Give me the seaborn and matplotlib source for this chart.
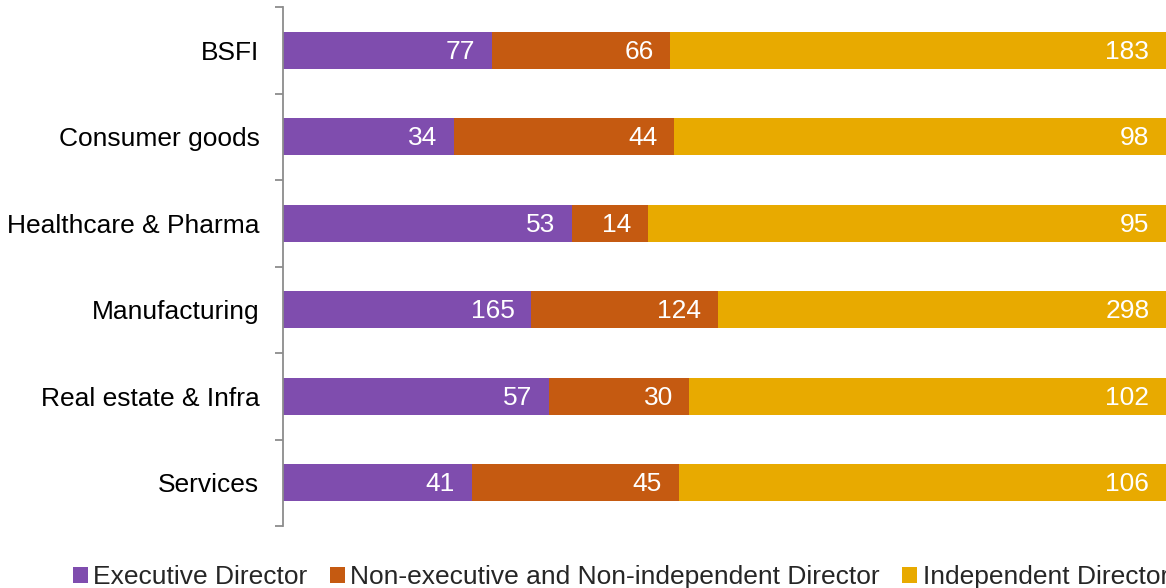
import matplotlib
matplotlib.use("Agg")
import matplotlib.pyplot as plt
from matplotlib.patches import Patch
import seaborn as sns
import pandas as pd
import numpy as np

categories = ["BSFI", "Consumer goods", "Healthcare & Pharma", "Manufacturing",
              "Real estate & Infra", "Services"]
executive = [77, 34, 53, 165, 57, 41]
non_exec_non_indep = [66, 44, 14, 124, 30, 45]
independent = [183, 98, 95, 298, 102, 106]
series_names = ["Executive Director", "Non-executive and Non-independent Director",
                "Independent Director"]
colors = ["#7F4DAE", "#C55A11", "#E8AA00"]

sns.set_theme(style="white")
plt.rcParams["font.family"] = ["Liberation Sans", "DejaVu Sans"]

counts = np.array([executive, non_exec_non_indep, independent], dtype=float)
totals = counts.sum(axis=0)
shares = counts / totals * 100
cum = np.cumsum(shares, axis=0)

df = pd.DataFrame({"category": categories})
for i in range(3):
    df[f"cum{i}"] = cum[i]

fig = plt.figure(figsize=(11.66, 5.88), dpi=100)
ax = fig.add_axes([283 / 1166, 1 - 526 / 588, 1 - 283 / 1166, (526 - 7) / 588])

# Stacked segments: draw cumulative widths from the back to the front
for i in (2, 1, 0):
    sns.barplot(data=df, x=f"cum{i}", y="category", orient="h", color=colors[i],
                width=0.43, saturation=1, ax=ax, edgecolor="none")

# Value labels at the right end of each segment
for i in range(3):
    for j in range(len(categories)):
        ax.annotate(f"{int(counts[i, j])}", xy=(cum[i, j], j), xytext=(-12, -1),
                    textcoords="offset points", ha="right", va="center",
                    color="white", fontsize=19)

ax.set_xlim(0, 100)
ax.set_ylim(len(categories) - 0.5, -0.5)
ax.set_xlabel("")
ax.set_ylabel("")
ax.set_xticks([])
ax.set_yticks(range(len(categories)))
ax.set_yticklabels(categories, fontsize=19, color="black")
ax.tick_params(axis="y", which="major", length=0, pad=17)
ax.set_yticks(np.arange(-0.5, len(categories), 1), minor=True)
ax.tick_params(axis="y", which="minor", left=True, length=5.5, width=1.3, color="#8C8C8C")
for side in ("top", "right", "bottom"):
    ax.spines[side].set_visible(False)
ax.spines["left"].set_color("#8C8C8C")
ax.spines["left"].set_linewidth(1.3)

handles = [Patch(facecolor=c, edgecolor="none") for c in colors]
fig.legend(handles, series_names, loc="center left", bbox_to_anchor=(73 / 1166, 1 - 577 / 588),
           ncol=3, frameon=False, fontsize=19, handlelength=0.57, handleheight=0.57,
           handletextpad=0.2, columnspacing=0.85, borderpad=0, borderaxespad=0)

fig.savefig("out.png", dpi=100)
